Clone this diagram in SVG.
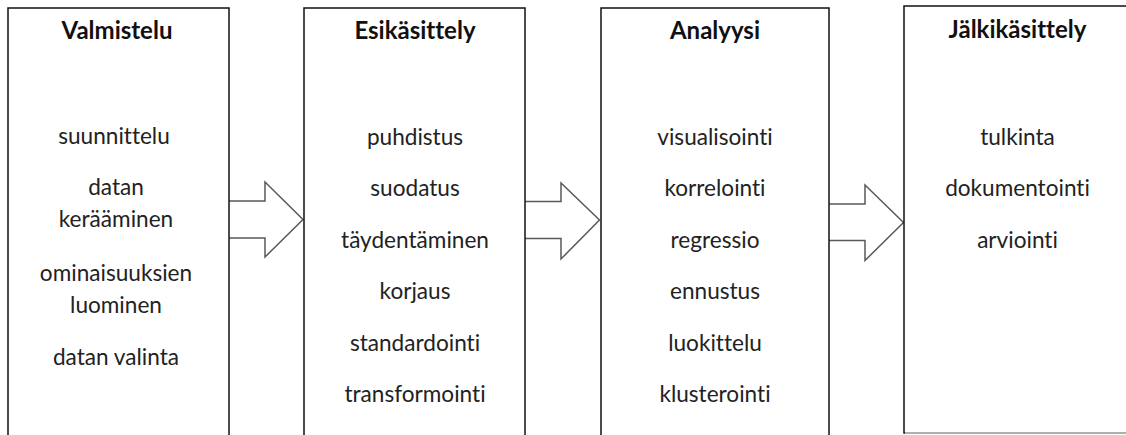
<svg xmlns="http://www.w3.org/2000/svg" width="1126" height="435" viewBox="0 0 1126 435">
<style>
.box{fill:#fff;stroke:#111;stroke-width:1.5}
.arrow{fill:#fff;stroke:#595959;stroke-width:1.5;stroke-linejoin:miter}
text{font-family:Lato,"Liberation Sans",sans-serif;text-anchor:middle;font-variant-ligatures:none;font-feature-settings:"liga" 0,"clig" 0}
.h{font-weight:bold;font-size:24px;fill:#111}
.t{font-size:22.6px;fill:#222}
</style>
<rect width="1126" height="435" fill="#fff"/>
<g id="connectors">
<path class="arrow" d="M229,201 H265 V182 L303,219.5 L265,257 V238 H229"/>
<path class="arrow" d="M525,201.5 H561 V183 L599.5,220 L561,259 V238.5 H525"/>
<path class="arrow" d="M829,204 H865 V185 L903.5,222.5 L865,260.5 V240.5 H829"/>
</g>
<g id="valmistelu">
<rect class="box" x="8" y="8" width="221" height="440"/>
<text class="h" x="117" y="38.5">Valmistelu</text>
<text class="t" x="114" y="144">suunnittelu</text>
<text class="t" x="116" y="195">datan</text>
<text class="t" x="116" y="227">kerääminen</text>
<text class="t" x="116" y="281">ominaisuuksien</text>
<text class="t" x="116" y="313">luominen</text>
<text class="t" x="116" y="365">datan valinta</text>
</g>
<g id="esikasittely">
<rect class="box" x="304" y="8" width="221" height="440"/>
<text class="h" x="415" y="38.5">Esikäsittely</text>
<text class="t" x="415" y="144.5">puhdistus</text>
<text class="t" x="415" y="196">suodatus</text>
<text class="t" x="415" y="247.5">täydentäminen</text>
<text class="t" x="415" y="299">korjaus</text>
<text class="t" x="415" y="350.5">standardointi</text>
<text class="t" x="415" y="402">transformointi</text>
</g>
<g id="analyysi">
<rect class="box" x="601" y="8" width="228" height="440"/>
<text class="h" x="715" y="38.5">Analyysi</text>
<text class="t" x="715" y="144.5">visualisointi</text>
<text class="t" x="715" y="196">korrelointi</text>
<text class="t" x="715" y="247.5">regressio</text>
<text class="t" x="715" y="299">ennustus</text>
<text class="t" x="715" y="350.5">luokittelu</text>
<text class="t" x="715" y="402">klusterointi</text>
</g>
<g id="jalkikasittely">
<rect class="box" x="904" y="6" width="240" height="427"/>
<line x1="905" y1="433" x2="1126" y2="433" stroke="#d0d0d0" stroke-width="1.5"/>
<text class="h" x="1017.5" y="38">Jälkikäsittely</text>
<text class="t" x="1017.5" y="144.5">tulkinta</text>
<text class="t" x="1017.5" y="196">dokumentointi</text>
<text class="t" x="1017.5" y="247.5">arviointi</text>
</g>
</svg>
